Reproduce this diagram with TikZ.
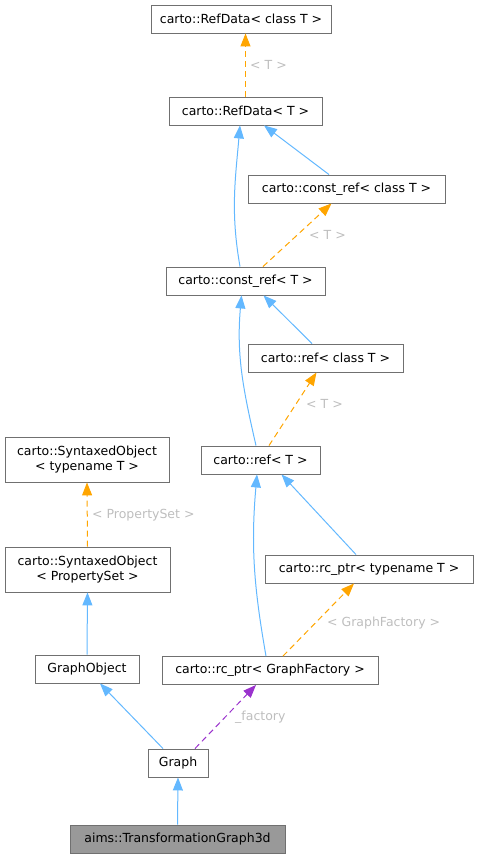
\documentclass[tikz,border=0pt]{standalone}
\usepackage{fontspec}
\setmainfont{DejaVu Sans}
\usetikzlibrary{arrows.meta}
\definecolor{inhblue}{HTML}{63B8FF}
\definecolor{tplorange}{HTML}{FFA500}
\definecolor{usepurple}{HTML}{9A32CD}
\definecolor{lblgray}{HTML}{BEBEBE}
\definecolor{boxgray}{HTML}{707070}
\begin{document}
\begin{tikzpicture}[x=1pt,y=-1pt,
	cls/.style={draw=boxgray,line width=0.9pt,fill=white,minimum width=#1,minimum height=28pt,
		inner xsep=0pt,align=center,font=\fontsize{12.5}{15.5}\selectfont},
	inh/.style={color=inhblue,line width=1pt,-{Triangle[length=13pt,width=10pt]}},
	tpl/.style={color=tplorange,line width=1pt,dash pattern=on 6pt off 4pt,-{Triangle[length=13pt,width=10pt]}},
	usr/.style={color=usepurple,line width=1pt,dash pattern=on 6pt off 4pt,-{Triangle[length=13pt,width=10pt]}},
	lbl/.style={text=lblgray,anchor=west,inner sep=0pt,font=\fontsize{12.5}{15}\selectfont}]
	\useasboundingbox (0,0) rectangle (478,858);
	
	\node[cls=180] (rdc)  at (241,19)    {carto::RefData< class T >};
	\node[cls=153] (rd)   at (245.5,111) {carto::RefData< T >};
	\node[cls=197] (crc)  at (346.5,189) {carto::const\_ref< class T >};
	\node[cls=159] (cr)   at (245.5,281) {carto::const\_ref< T >};
	\node[cls=155] (rc)   at (325.5,358) {carto::ref< class T >};
	\node[cls=119] (r)    at (260.5,460) {carto::ref< T >};
	\node[cls=164,minimum height=45pt] (so1) at (87,459.5) {carto::SyntaxedObject\\< typename T >};
	\node[cls=165,minimum height=45pt] (so2) at (87.5,569.5) {carto::SyntaxedObject\\< PropertySet >};
	\node[cls=208] (rcpt) at (369,569)   {carto::rc\_ptr< typename T >};
	\node[cls=104] (gobj) at (87,669)    {GraphObject};
	\node[cls=216] (rcgf) at (270,670.5) {carto::rc\_ptr< GraphFactory >};
	\node[cls=60]  (gr)   at (178,763)   {Graph};
	\node[cls=215,fill=black!40] (tg) at (177.5,839) {aims::TransformationGraph3d};
	
	%\draw[inh] (tg) -- (gr);
	\path[inh]
	(tg.north) edge (gr.south)
	([xshift=-15pt]gr.north) edge ([xshift=13pt]gobj.south)
	(gobj.north) edge (so2.south)
	([xshift=-13pt]rcpt.north) edge ([xshift=21pt]r.south)
	([xshift=-4pt]rcgf.north) edge[out=100,in=-95] ([xshift=-3.5pt]r.south)
	([xshift=-13.5pt]rc.north) edge ([xshift=18pt]cr.south)
	([xshift=-4.5pt]r.north) edge[out=103,in=-95] ([xshift=-4pt]cr.south)
	([xshift=-17.5pt]crc.north) edge ([xshift=18.5pt]rd.south)
	([xshift=-5.5pt]cr.north) edge[out=100,in=-95] ([xshift=-5.5pt]rd.south);
	
	\path[tpl]
	(rd.north) edge (rd.north |- rdc.south)
	([xshift=17.5pt]cr.north) edge ([xshift=-15pt]crc.south)
	([xshift=8.5pt]r.north) edge ([xshift=-9pt]rc.south)
	([xshift=13pt]rcgf.north) edge ([xshift=-15pt]rcpt.south)
	(so2.north) edge (so1.south);
	
	\path[usr]
	([xshift=17pt]gr.north) edge ([xshift=-14pt]rcgf.south);
	
	\node[lbl] (l1) at (250,65)  {< T >};
	\node[lbl] (l2) at (309,235) {< T >};
	\node[lbl] (l3) at (306,404) {< T >};
	\node[lbl] (l4) at (327,623) {< GraphFactory >};
	\node[lbl] (l5) at (92,515)  {< PropertySet >};
	\node[lbl] (l6) at (235,717) {\_factory};
\end{tikzpicture}
\end{document}
